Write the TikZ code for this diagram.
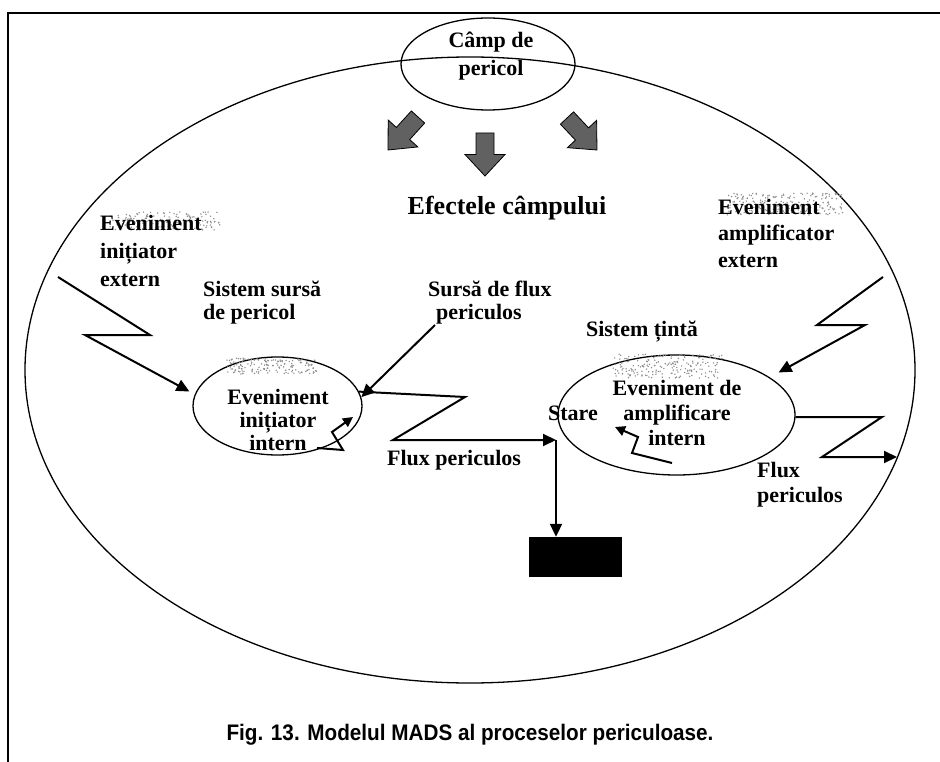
\documentclass[tikz,border=0pt]{standalone}
\usepackage{fontspec}
\setmainfont{Liberation Serif}
\newfontfamily\capfont{Liberation Sans}
\usetikzlibrary{shapes.geometric,arrows.meta,calc}

\tikzset{
  lbl/.style={font=\bfseries\fontsize{22}{23}\selectfont, inner sep=0pt},
  oval/.style={ellipse, draw, line width=1.3pt, inner sep=0pt},
  zig/.style={line width=2pt, line join=miter},
  zigarrow/.style={zig, -{Triangle[length=13pt,width=12pt]}},
  smallarrow/.style={zig, -{Triangle[length=10pt,width=10pt]}},
  blockarrow/.style={fill=black!62, draw=black, line width=0.8pt},
}

% gray speckle behind a word
\newcommand{\speckle}[5]{% cx, cy, rx, ry, count
  \foreach \k in {1,...,#5}{
    \fill[black!45] ({#1+#3*(2*rnd-1)},{#2+#4*(2*rnd-1)}) circle (0.8);
  }
}

% block arrow from tail centre #1 to tip #2
\newcommand{\blockarr}[2]{%
  \path[blockarrow]
    ($(#1)!9pt!90:(#2)$) -- ($($(#1)!0.5!(#2)$)!9pt!90:(#2)$)
    -- ($($(#1)!0.5!(#2)$)!20pt!90:(#2)$) -- (#2)
    -- ($($(#1)!0.5!(#2)$)!20pt!-90:(#2)$) -- ($($(#1)!0.5!(#2)$)!9pt!-90:(#2)$)
    -- ($(#1)!9pt!-90:(#2)$) -- cycle;
}

\begin{document}
\begin{tikzpicture}[x=1pt, y=-1pt]
\pgfmathsetseed{7}
\useasboundingbox (0,0) rectangle (940,762);

% frame
\draw[line width=1.8pt] (8,762) -- (8,13) -- (940,13);

% ellipses
\node[oval, minimum width=890, minimum height=626] (field) at (470,370) {};
\node[oval, minimum width=174, minimum height=92] (camp) at (488,64) {};
\node[oval, minimum width=169, minimum height=98] (src) at (277.5,406) {};
\node[oval, minimum width=237, minimum height=120] (tgt) at (676.5,415) {};

% speckles
\speckle{272}{366}{45}{8}{160}
\speckle{165}{221}{55}{9}{160}
\speckle{668}{366}{55}{12}{200}
\speckle{785}{204}{58}{11}{190}

% block arrows
\coordinate (ba1t) at (418,117); \coordinate (ba1h) at (388,150);
\coordinate (ba2t) at (485,133); \coordinate (ba2h) at (485,176);
\coordinate (ba3t) at (567,118); \coordinate (ba3h) at (597,150);
\blockarr{ba1t}{ba1h}
\blockarr{ba2t}{ba2h}
\blockarr{ba3t}{ba3h}

% labels
\node[lbl, align=center, font=\bfseries\fontsize{22}{28}\selectfont] (tcamp) at (491,56) {Câmp de\\pericol};
\node[lbl, font=\bfseries\fontsize{26}{28}\selectfont] (tef) at (507,208) {Efectele câmpului};
\node[lbl, align=left, anchor=west, font=\bfseries\fontsize{22}{28}\selectfont] (tiext) at (100,251) {Eveniment\\inițiator\\extern};
\node[lbl, align=left, anchor=west] (tsss) at (203,303) {Sistem sursă\\de pericol};
\node[lbl, align=left, anchor=west] (tsfp) at (428,303) {Sursă de flux\\\hspace*{8pt}periculos};
\node[lbl, align=center] (tiint) at (278,420) {Eveniment\\inițiator\\intern};
\node[lbl] (tflux) at (454,460) {Flux periculos};
\node[lbl] (tst) at (642,332) {Sistem țintă};
\node[lbl, align=left, anchor=west, font=\bfseries\fontsize{22}{26.5}\selectfont] (taext) at (718,233) {Eveniment\\amplificator\\extern};
\node[lbl, align=center, font=\bfseries\fontsize{22}{25}\selectfont] (taint) at (677,413) {Eveniment de\\amplificare\\intern};
\node[lbl] (tstare) at (573,413) {Stare};
\node[lbl, align=left, anchor=west, font=\bfseries\fontsize{22}{25}\selectfont] (tflux2) at (757,485) {Flux\\periculos};

% black box
\node[fill=black, minimum width=93, minimum height=40, inner sep=0pt] (box) at (575.5,557) {};

% external initiating event
\coordinate (a1) at (58,277);
\coordinate (a2) at (150,335);
\coordinate (a3) at (85,335);
\draw[zigarrow, shorten >=6pt] (a1) -- (a2) -- (a3) -- (src.172);

% source of hazardous flow
\coordinate (b1) at (435,325);
\draw[zigarrow] (b1) -- (src.6);

% internal initiating event
\coordinate (c1) at (317,448);
\coordinate (c2) at (343,450);
\coordinate (c3) at (332,432);
\coordinate (c4) at (353,417);
\draw[smallarrow] (c1) -- (c2) -- (c3) -- (c4);

% hazardous flow towards the target
\coordinate (d1) at (465,397);
\coordinate (d2) at (393,440);
\coordinate (corner) at (556,440);
\draw[zigarrow] (src.10) -- (d1) -- (d2) -- (corner);
\draw[zigarrow] (corner) -- (corner |- box.north);

% external amplifying event
\coordinate (e1) at (883,277);
\coordinate (e2) at (817,325);
\coordinate (e3) at (865,325);
\draw[zigarrow, shorten >=10pt] (e1) -- (e2) -- (e3) -- (tgt.22);

% internal amplifying event
\coordinate (f1) at (672,463);
\coordinate (f2) at (632,453);
\coordinate (f3) at (638,437);
\coordinate (f4) at (615,427);
\draw[smallarrow] (f1) -- (f2) -- (f3) -- (f4);

% outgoing hazardous flow
\coordinate (g1) at (882,417);
\coordinate (g2) at (822,457);
\coordinate (g3) at (897,457);
\draw[zigarrow] (tgt.-1) -- (g1) -- (g2) -- (g3);

% caption
\node[inner sep=0pt, font=\capfont\bfseries\fontsize{22.5}{24}\selectfont, xscale=0.92] (cap) at (470,735) {Fig. 13. Modelul MADS al proceselor periculoase.};
\end{tikzpicture}
\end{document}
